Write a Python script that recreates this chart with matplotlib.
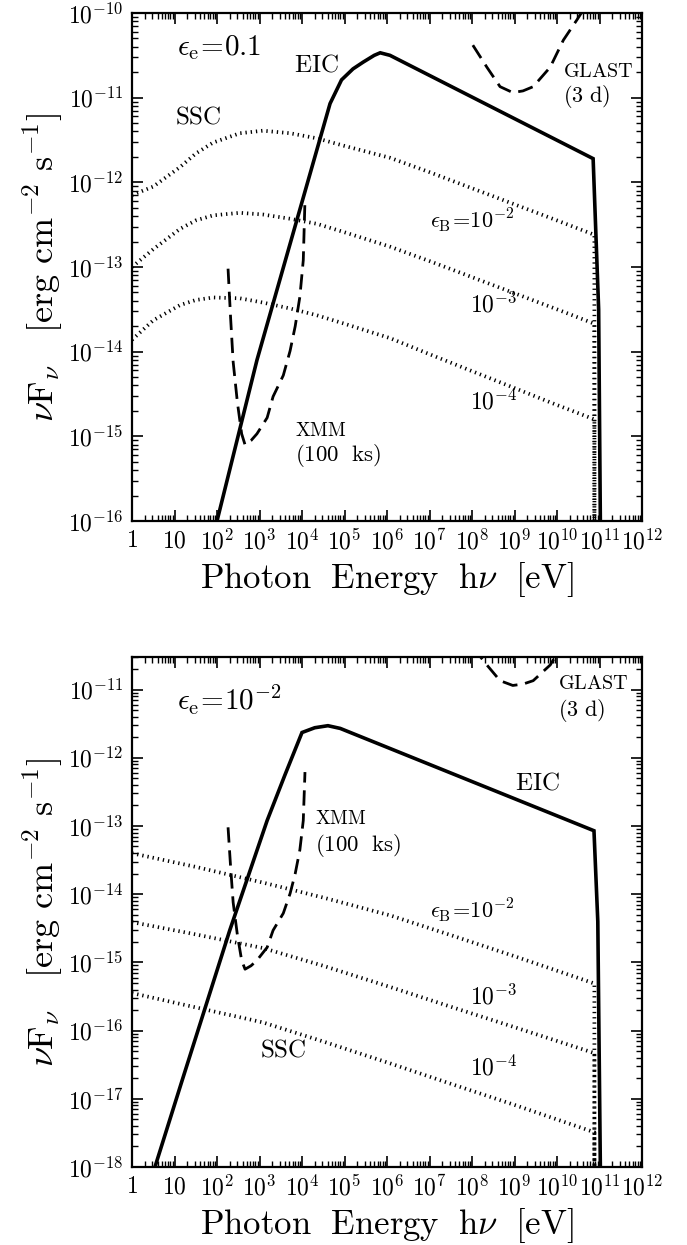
import numpy as np
import matplotlib
matplotlib.use('Agg')
import matplotlib.pyplot as plt
from matplotlib.ticker import LogLocator, FixedLocator, FuncFormatter, NullFormatter

plt.rcParams['mathtext.fontset'] = 'cm'
plt.rcParams['font.family'] = ['DejaVu Serif']

# ---------------- data (log10 of photon energy [eV] and nuFnu [erg cm^-2 s^-1]) -------------
# XMM (100 ks) sensitivity (same in both panels)
xmm_logE = [2.26, 2.32, 2.38, 2.48, 2.58, 2.66, 2.80, 2.94, 3.18, 3.32, 3.56, 3.72, 3.84, 3.95, 4.03, 4.07]
xmm_logF = [-13.02, -13.60, -14.12, -14.60, -14.97, -15.10, -15.05, -14.97, -14.78, -14.53, -14.28, -13.99, -13.70, -13.35, -12.92, -12.21]

# GLAST (3 d) sensitivity (same in both panels)
glast_logE = [8.02, 8.35, 8.66, 8.96, 9.20, 9.44, 9.84, 10.15, 10.47, 10.70]
glast_logF = [-10.38, -10.64, -10.87, -10.94, -10.92, -10.87, -10.64, -10.32, -10.08, -9.90]

# Top panel: eps_e = 0.1
top_eic_logE = [2.00, 2.94, 4.66, 4.93, 5.20, 5.44, 5.70, 5.84, 6.07, 10.85, 10.98, 11.02]
top_eic_logF = [-16.0, -14.10, -11.07, -10.79, -10.66, -10.58, -10.50, -10.47, -10.50, -11.72, -13.5, -16.0]

top_ssc_logE = [0.0, 0.5, 1.13, 1.5, 1.91, 2.54, 3.08, 3.72, 4.35, 5.0, 6.07, 7.0, 8.0, 9.0, 10.0, 10.88, 10.88]
top_ssc_eB2 = [-12.15, -12.05, -11.82, -11.66, -11.53, -11.42, -11.39, -11.42, -11.48, -11.57, -11.71, -11.88, -12.07, -12.26, -12.45, -12.62, -16.0]
top_ssc_eB3 = [-13.00, -12.79, -12.55, -12.45, -12.39, -12.36, -12.38, -12.43, -12.49, -12.59, -12.76, -12.93, -13.12, -13.31, -13.50, -13.67, -16.0]
top_ssc_eB4 = [-13.86, -13.63, -13.45, -13.39, -13.36, -13.37, -13.42, -13.49, -13.57, -13.67, -13.84, -14.03, -14.23, -14.43, -14.63, -14.80, -16.0]

# Bottom panel: eps_e = 1e-2
bot_eic_logE = [0.54, 1.18, 2.30, 3.18, 3.60, 4.00, 4.30, 4.61, 4.90, 10.87, 10.96, 11.02]
bot_eic_logF = [-18.0, -16.73, -14.53, -12.92, -12.25, -11.63, -11.56, -11.53, -11.57, -13.07, -14.40, -18.0]

bot_ssc_logE = [0.0, 1.5, 3.08, 4.5, 6.07, 7.5, 9.0, 10.88, 10.88]
bot_ssc_eB2 = [-13.40, -13.60, -13.83, -14.05, -14.31, -14.60, -14.91, -15.31, -18.0]
bot_ssc_eB3 = [-14.41, -14.59, -14.79, -15.05, -15.36, -15.65, -15.95, -16.33, -18.0]
bot_ssc_eB4 = [-15.45, -15.66, -15.88, -16.16, -16.48, -16.78, -17.09, -17.49, -18.0]

x_lim = (1.0, 1e12)
top_ylim = (1e-16, 1e-10)
bot_ylim = (1e-18, 3e-11)
x_ticks = [10.0 ** k for k in range(0, 13)]
top_yticks = [10.0 ** k for k in range(-16, -9)]
bot_yticks = [10.0 ** k for k in range(-18, -10)]

# ---------------- figure -------------
W, H = 687, 1245
fig = plt.figure(figsize=(W / 100, H / 100), dpi=100)

def px_axes(l, t, r, b):
    return fig.add_axes([l / W, 1 - b / H, (r - l) / W, (b - t) / H])

ax_top = px_axes(132, 13, 642, 521)
ax_bot = px_axes(132, 657, 642, 1167)

solid_kw = dict(color='black', lw=2.6, solid_joinstyle='miter')
dash_kw = dict(color='black', lw=2.0, linestyle=(0, (5.5, 2.8)))
dot_kw = dict(color='black', lw=2.7, linestyle=(0, (0.35, 1.05)))

def p(v):
    return 10 ** np.asarray(v)

def xfmt(v, pos):
    n = int(round(np.log10(v)))
    if n == 0:
        return r'$1$'
    if n == 1:
        return r'$10$'
    return r'$10^{%d}$' % n

def yfmt(v, pos):
    n = int(round(np.log10(v)))
    return r'$10^{%d}$' % n

def style(ax, ylim, yticks):
    ax.set_xscale('log')
    ax.set_yscale('log')
    ax.set_xlim(*x_lim)
    ax.set_ylim(*ylim)
    ax.xaxis.set_major_locator(FixedLocator(x_ticks))
    ax.xaxis.set_minor_locator(LogLocator(base=10, subs=np.arange(2, 10), numticks=200))
    ax.yaxis.set_major_locator(FixedLocator(yticks))
    ax.yaxis.set_minor_locator(LogLocator(base=10, subs=np.arange(2, 10), numticks=200))
    ax.xaxis.set_major_formatter(FuncFormatter(xfmt))
    ax.yaxis.set_major_formatter(FuncFormatter(yfmt))
    ax.xaxis.set_minor_formatter(NullFormatter())
    ax.yaxis.set_minor_formatter(NullFormatter())
    ax.tick_params(which='both', direction='in', top=True, right=True)
    ax.tick_params(which='major', length=8, width=1.2, labelsize=17)
    ax.tick_params(which='minor', length=4, width=1.0)
    ax.tick_params(axis='x', which='major', pad=6)
    ax.tick_params(axis='y', which='major', pad=6)
    for s in ax.spines.values():
        s.set_linewidth(1.6)
    ax.set_xlabel(r'$\mathrm{Photon\ \ Energy\ \ h}\nu\ \ [\mathrm{eV}]$', fontsize=25, labelpad=4)
    ax.set_ylabel(r'$\nu\mathrm{F}_\nu\ \ \ [\mathrm{erg\ cm^{-2}\ s^{-1}}]$', fontsize=26, labelpad=2)

# top panel
ax = ax_top
ax.plot(p(top_eic_logE), p(top_eic_logF), **solid_kw)
for ys in (top_ssc_eB2, top_ssc_eB3, top_ssc_eB4):
    ax.plot(p(top_ssc_logE), p(ys), **dot_kw)
ax.plot(p(xmm_logE), p(xmm_logF), **dash_kw)
ax.plot(p(glast_logE), p(glast_logF), **dash_kw)
style(ax, top_ylim, top_yticks)

def t(ax, x, y, s, fs=16, **kw):
    ax.text(x, y, s, transform=ax.transAxes, fontsize=fs, ha='left', va='center', **kw)

t(ax, 0.088, 0.933, r'$\epsilon_{\rm e}\!=\!0.1$', fs=21)
t(ax, 0.318, 0.898, r'$\mathrm{EIC}$', fs=18)
t(ax, 0.084, 0.795, r'$\mathrm{SSC}$', fs=18)
t(ax, 0.845, 0.885, r'$\mathrm{GLAST}$', fs=14.5)
t(ax, 0.845, 0.835, r'$\mathrm{(3\ d)}$', fs=16)
t(ax, 0.584, 0.593, r'$\epsilon_{\rm B}\!=\!10^{-2}$', fs=16)
t(ax, 0.663, 0.425, r'$10^{-3}$', fs=17)
t(ax, 0.663, 0.234, r'$10^{-4}$', fs=17)
t(ax, 0.320, 0.177, r'$\mathrm{XMM}$', fs=14)
t(ax, 0.320, 0.128, r'$\mathrm{(100\ \ ks)}$', fs=16.5)

# bottom panel
ax = ax_bot
ax.plot(p(bot_eic_logE), p(bot_eic_logF), **solid_kw)
for ys in (bot_ssc_eB2, bot_ssc_eB3, bot_ssc_eB4):
    ax.plot(p(bot_ssc_logE), p(ys), **dot_kw)
ax.plot(p(xmm_logE), p(xmm_logF), **dash_kw)
ax.plot(p(glast_logE), p(glast_logF), **dash_kw)
style(ax, bot_ylim, bot_yticks)

t(ax, 0.088, 0.916, r'$\epsilon_{\rm e}\!=\!10^{-2}$', fs=21)
t(ax, 0.835, 0.949, r'$\mathrm{GLAST}$', fs=14.5)
t(ax, 0.835, 0.896, r'$\mathrm{(3\ d)}$', fs=16)
t(ax, 0.751, 0.753, r'$\mathrm{EIC}$', fs=18)
t(ax, 0.359, 0.682, r'$\mathrm{XMM}$', fs=14)
t(ax, 0.359, 0.630, r'$\mathrm{(100\ \ ks)}$', fs=16.5)
t(ax, 0.584, 0.504, r'$\epsilon_{\rm B}\!=\!10^{-2}$', fs=16)
t(ax, 0.663, 0.333, r'$10^{-3}$', fs=17)
t(ax, 0.663, 0.194, r'$10^{-4}$', fs=17)
t(ax, 0.251, 0.229, r'$\mathrm{SSC}$', fs=18)

fig.savefig('out.png', dpi=100)
